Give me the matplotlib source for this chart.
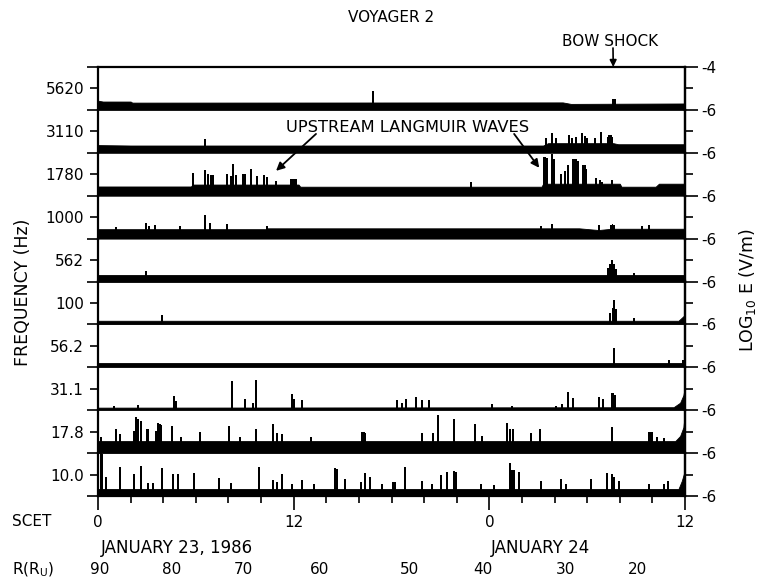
import matplotlib
matplotlib.use("Agg")
import matplotlib.pyplot as plt
import matplotlib.transforms as mtransforms
import numpy as np

plt.rcParams['font.family'] = ['DejaVu Sans']

# ---------------------------------------------------------------- data
# channel centre frequencies, top to bottom
freq_labels = ['5620', '3110', '1780', '1000', '562', '100', '56.2', '31.1', '17.8', '10.0']

# noise-floor outline per channel: hours since 00:00 Jan 23 SCET, log10 E (V/m)
floor_5620_t = [0, 0.3, 2.0, 2.1, 28.5, 29.0, 36]
floor_5620_e = [-5.57, -5.61, -5.61, -5.66, -5.65, -5.72, -5.70]
floor_3110_t = [0, 2.0, 27.3, 27.6, 31.6, 31.9, 36]
floor_3110_e = [-5.64, -5.66, -5.66, -5.55, -5.55, -5.60, -5.60]
floor_1780_t = [0, 5.7, 5.8, 12.3, 12.4, 27.2, 27.3, 32.0, 32.1, 34.2, 34.4, 36]
floor_1780_e = [-5.57, -5.57, -5.48, -5.48, -5.58, -5.58, -5.44, -5.44, -5.58, -5.58, -5.44, -5.44]
floor_1000_t = [0, 10.3, 10.4, 29.5, 30.7, 31.5, 36]
floor_1000_e = [-5.56, -5.56, -5.52, -5.52, -5.60, -5.54, -5.54]
floor_562_t = [0, 36]
floor_562_e = [-5.72, -5.72]
floor_100_t = [0, 35.6, 36]
floor_100_e = [-5.83, -5.83, -5.55]
floor_56_t = [0, 36]
floor_56_e = [-5.78, -5.78]
floor_31_t = [0, 35.3, 35.7, 35.9, 36]
floor_31_e = [-5.88, -5.86, -5.65, -5.30, -4.90]
floor_17_t = [0, 35.4, 35.7, 35.9, 36]
floor_17_e = [-5.44, -5.44, -5.20, -4.80, -4.10]
floor_10_t = [0, 35.6, 35.8, 36]
floor_10_e = [-5.67, -5.67, -5.30, -4.79]

# spikes above the floor: hour, peak log10 E (V/m)
spk_5620_t = [16.87, 31.6, 31.7]
spk_5620_e = [-5.10, -5.47, -5.47]
spk_3110_t = [6.56, 27.48, 27.85, 28.10, 28.90, 29.08, 29.33, 29.69, 29.88, 30.00,
              30.49, 30.86, 31.25, 31.35, 31.45, 31.55]
spk_3110_e = [-5.35, -5.30, -5.07, -5.30, -5.16, -5.30, -5.25, -5.07, -5.20, -5.30,
              -5.30, -5.02, -5.25, -5.16, -5.16, -5.25]
spk_1780_t = [5.83, 6.56, 6.75, 6.95, 7.05, 7.91, 8.16, 8.28, 8.47, 8.90, 9.00, 9.39,
              9.75, 10.18, 10.37, 10.92, 11.85, 11.95, 12.05, 12.15, 22.88,
              27.35, 27.45, 27.55, 27.85, 27.95, 28.40, 28.65, 28.83, 29.10, 29.20,
              29.30, 29.45, 29.75, 29.85, 29.94, 30.55, 30.80, 30.92, 31.53]
spk_1780_e = [-4.93, -4.79, -5.00, -5.02, -5.02, -4.98, -5.10, -4.51, -5.05, -5.00, -5.00, -4.74,
              -5.10, -5.02, -5.15, -5.30, -5.21, -5.21, -5.21, -5.21, -5.35,
              -4.19, -4.19, -4.25, -4.05, -4.30, -4.98, -4.85, -4.56, -4.28, -4.28,
              -4.30, -4.40, -4.56, -4.56, -4.75, -5.16, -5.26, -5.35, -5.26]
spk_1000_t = [1.10, 2.94, 3.13, 3.50, 5.03, 6.56, 6.87, 7.91, 10.37, 27.18, 27.85,
              30.74, 31.45, 31.55, 31.65, 33.37, 33.80]
spk_1000_e = [-5.44, -5.26, -5.40, -5.35, -5.42, -4.88, -5.28, -5.30, -5.42, -5.42, -5.30,
              -5.35, -5.35, -5.30, -5.35, -5.42, -5.35]
spk_562_t = [2.94, 31.30, 31.40, 31.53, 31.65, 31.75, 32.88]
spk_562_e = [-5.53, -5.35, -5.20, -4.98, -5.20, -5.40, -5.60]
spk_100_t = [3.93, 31.41, 31.55, 31.66, 31.76, 32.88]
spk_100_e = [-5.58, -5.49, -5.25, -4.84, -5.30, -5.68]
spk_56_t = [31.66, 35.03, 35.90]
spk_56_e = [-5.12, -5.65, -5.65]
spk_31_t = [0.98, 2.45, 4.66, 4.79, 8.22, 9.02, 9.51, 9.69, 11.90, 12.02, 12.52,
            18.34, 18.65, 18.90, 19.51, 19.88, 20.31, 24.17, 25.40, 28.10, 28.47,
            28.83, 29.14, 30.74, 30.98, 31.50, 31.60, 31.70]
spk_31_e = [-5.80, -5.77, -5.35, -5.55, -4.65, -5.49, -5.65, -4.60, -5.26, -5.50, -5.53,
            -5.53, -5.65, -5.49, -5.40, -5.53, -5.53, -5.70, -5.80, -5.80, -5.70,
            -5.16, -5.45, -5.40, -5.50, -5.21, -5.21, -5.30]
spk_17_t = [0.18, 1.10, 1.35, 2.21, 2.35, 2.45, 2.64, 3.02, 3.10, 3.56, 3.70, 3.80, 3.90,
            4.54, 5.09, 6.26, 8.04, 8.71, 9.69, 10.74, 10.98, 11.29, 13.07, 16.20,
            16.30, 16.40, 19.88, 20.55, 20.86, 21.84, 23.13, 23.56, 25.09, 25.28,
            25.46, 26.56, 27.12, 31.53, 33.80, 33.90, 34.00, 34.29, 34.72]
spk_17_e = [-5.25, -4.88, -5.10, -4.98, -4.33, -4.40, -4.51, -4.88, -4.88, -4.98, -4.60, -4.65, -4.70,
            -4.74, -5.25, -5.02, -4.74, -5.25, -4.88, -4.65, -5.05, -5.10, -5.25, -5.02,
            -5.02, -5.05, -5.07, -5.07, -4.23, -4.42, -4.65, -5.20, -4.60, -4.88,
            -4.88, -5.07, -4.88, -4.79, -5.02, -5.02, -5.02, -5.25, -5.30]
spk_10_t = [0.20, 0.28, 0.49, 1.35, 2.21, 2.64, 3.07, 3.37, 3.93, 4.60, 4.91, 5.89,
            7.42, 8.16, 9.88, 10.74, 10.98, 11.29, 11.90, 12.52, 13.25, 14.55, 14.65,
            15.15, 16.13, 16.38, 16.69, 17.42, 18.10, 18.20, 18.83, 19.88, 20.49,
            21.04, 21.41, 21.85, 21.95, 23.50, 24.29, 25.28, 25.40, 25.52, 25.83,
            27.18, 28.40, 28.71, 30.25, 31.23, 31.53, 31.63, 31.96, 33.80, 34.72, 34.97]
spk_10_e = [-4.00, -4.05, -5.12, -4.65, -4.98, -4.60, -5.40, -5.40, -4.70, -4.98, -4.98, -4.93,
            -5.16, -5.40, -4.65, -5.26, -5.35, -4.98, -5.45, -5.26, -5.45, -4.70, -4.75,
            -5.20, -5.35, -4.93, -5.12, -5.45, -5.35, -5.35, -4.65, -5.30, -5.45,
            -5.00, -4.88, -4.84, -4.88, -5.45, -5.50, -4.47, -4.80, -4.80, -4.88,
            -5.30, -5.20, -5.45, -5.20, -4.93, -4.98, -5.10, -5.30, -5.45, -5.45, -5.30]

floors_t = [floor_5620_t, floor_3110_t, floor_1780_t, floor_1000_t, floor_562_t,
            floor_100_t, floor_56_t, floor_31_t, floor_17_t, floor_10_t]
floors_e = [floor_5620_e, floor_3110_e, floor_1780_e, floor_1000_e, floor_562_e,
            floor_100_e, floor_56_e, floor_31_e, floor_17_e, floor_10_e]
spikes_t = [spk_5620_t, spk_3110_t, spk_1780_t, spk_1000_t, spk_562_t,
            spk_100_t, spk_56_t, spk_31_t, spk_17_t, spk_10_t]
spikes_e = [spk_5620_e, spk_3110_e, spk_1780_e, spk_1000_e, spk_562_e,
            spk_100_e, spk_56_e, spk_31_e, spk_17_e, spk_10_e]

# time axis: hours since 00:00 Jan 23, ticks every 2 h
scet_ticks = [0, 12, 24, 36]
scet_labels = ['0', '12', '0', '12']
# radial distance (Uranus radii) labels and the hour each falls at
range_labels = ['90', '80', '70', '60', '50', '40', '30', '20']
range_hours = [0.1, 4.5, 8.9, 13.6, 19.1, 23.6, 28.7, 33.1]

# ---------------------------------------------------------------- figure
W, H = 760, 579
fig = plt.figure(figsize=(W / 100, H / 100), dpi=100)
fig.patch.set_facecolor('white')


def fx(px):
    return px / W


def fy(py):
    return 1 - py / H


left, right = 98, 685
top, bottom = 67, 496
n = len(freq_labels)
ph = (bottom - top) / n
FS = 11
LW = 1.6

axes = []
for i in range(n):
    y0 = top + (i + 1) * ph
    ax = fig.add_axes([fx(left), fy(y0), fx(right - left), ph / H])
    ax.set_facecolor('none')
    ax.set_xlim(0, 36)
    ax.set_ylim(-6, -4)
    ax.fill_between(floors_t[i], -6, floors_e[i], color='black', lw=0.6)
    ax.bar(spikes_t[i], np.array(spikes_e[i]) + 6, bottom=-6, width=0.11,
           color='black', linewidth=0, align='center')
    for s in ['left', 'right']:
        ax.spines[s].set_linewidth(LW)
    ax.spines['top'].set_visible(i == 0)
    ax.spines['top'].set_linewidth(LW)
    ax.spines['bottom'].set_visible(i == n - 1)
    ax.spines['bottom'].set_linewidth(LW)

    # left: frequency label mid-panel, plain ticks at the panel edges
    ax.set_yticks([-5])
    ax.set_yticklabels([freq_labels[i]], fontsize=FS)
    ax.set_yticks([-6, -4] if i == 0 else [-6], minor=True)
    ax.tick_params(axis='y', which='major', direction='out', length=6, width=1.2,
                   pad=4, right=False)
    ax.tick_params(axis='y', which='minor', direction='out', length=8, width=1.2,
                   right=False)

    # right: log10 E scale
    sec = ax.secondary_yaxis('right')
    sec.spines['right'].set_linewidth(LW)
    if i == 0:
        sec.set_yticks([-6, -4])
        sec.set_yticklabels(['-6', '-4'], fontsize=FS)
    else:
        sec.set_yticks([-6])
        sec.set_yticklabels(['-6'], fontsize=FS)
    sec.set_yticks([-5], minor=True)
    sec.tick_params(axis='y', which='major', direction='out', length=9, width=1.2, pad=3)
    sec.tick_params(axis='y', which='minor', direction='out', length=6, width=1.2)

    if i == n - 1:
        ax.set_xticks(scet_ticks)
        ax.set_xticklabels(scet_labels, fontsize=FS)
        ax.set_xticks(np.arange(0, 37, 2), minor=True)
        ax.tick_params(axis='x', which='major', direction='out', length=10, width=1.2, pad=4)
        ax.tick_params(axis='x', which='minor', direction='out', length=5, width=1.2)
    else:
        ax.set_xticks([])
    axes.append(ax)

ax_top, ax_3110, ax_1780, ax_bot = axes[0], axes[1], axes[2], axes[-1]

# titles and annotations
fig.text(fx(391), fy(17), 'VOYAGER 2', ha='center', va='center', fontsize=FS)
fig.text(fx(610), fy(41), 'BOW SHOCK', ha='center', va='center', fontsize=FS)
ax_top.annotate('', xy=(31.6, 1.0), xycoords=('data', 'axes fraction'),
                xytext=(fx(613), fy(48)), textcoords='figure fraction',
                arrowprops=dict(arrowstyle='-|>', color='black', lw=1.2,
                                mutation_scale=10, shrinkA=0, shrinkB=0),
                annotation_clip=False)

ax_3110.text(19.0, -4.84, 'UPSTREAM LANGMUIR WAVES', ha='center', va='center', fontsize=11.7)
for x0, y0, x1, y1 in [(13.37, -5.12, 10.92, -4.84), (25.52, -5.12, 27.06, -4.70)]:
    ax_3110.annotate('', xy=(x1, y1), xycoords=ax_1780.transData,
                     xytext=(x0, y0), textcoords=ax_3110.transData,
                     arrowprops=dict(arrowstyle='-|>', color='black', lw=1.3,
                                     mutation_scale=12, shrinkA=0, shrinkB=0),
                     annotation_clip=False)

fig.text(fx(23), fy(292), 'FREQUENCY (Hz)', rotation=90, ha='center', va='center', fontsize=12.5)
fig.text(fx(748), fy(290), 'LOG$_{\\mathregular{10}}$ E (V/m)', rotation=90,
         ha='center', va='center', fontsize=12.5)

fig.text(fx(12), fy(521), 'SCET', ha='left', va='center', fontsize=FS)
fig.text(fx(177), fy(548), 'JANUARY 23, 1986', ha='center', va='center', fontsize=12)
fig.text(fx(540), fy(548), 'JANUARY 24', ha='center', va='center', fontsize=12)
fig.text(fx(12), fy(570), 'R(R$_{\\mathregular{U}}$)', ha='left', va='center', fontsize=FS)
range_tr = mtransforms.blended_transform_factory(ax_bot.transData, fig.transFigure)
for lab, hr in zip(range_labels, range_hours):
    ax_bot.text(hr, fy(570), lab, transform=range_tr, ha='center', va='center', fontsize=FS)

fig.savefig('out.png', dpi=100, facecolor='white')
